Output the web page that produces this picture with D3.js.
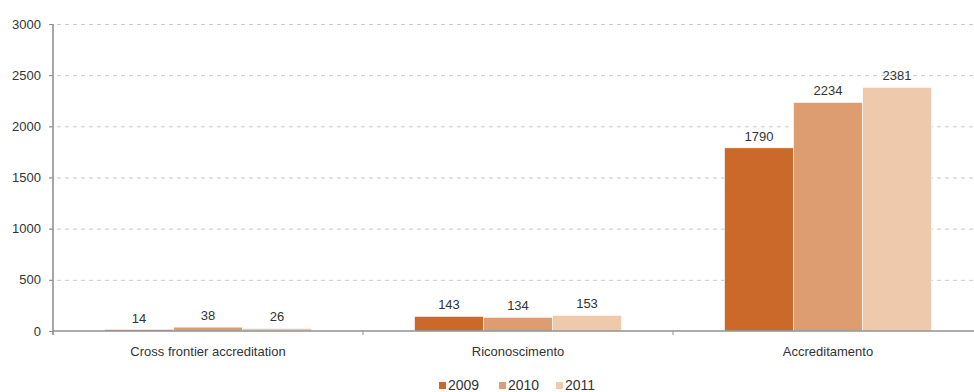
<!DOCTYPE html>
<html>
<head>
<meta charset="utf-8">
<script src="https://cdn.jsdelivr.net/npm/d3@7"></script>
<style>
  body { margin: 0; background: #fff; }
  svg { display: block; font-family: "Liberation Sans", Arial, sans-serif; }
</style>
</head>
<body>
<svg id="chart" width="974" height="392"></svg>
<script>
const categories = ["Cross frontier accreditation", "Riconoscimento", "Accreditamento"];
const years = ["2009", "2010", "2011"];
const values2009 = [14, 143, 1790];
const values2010 = [38, 134, 2234];
const values2011 = [26, 153, 2381];
const yTicks = [0, 500, 1000, 1500, 2000, 2500, 3000];
const colors = ["#CB692B", "#DE9D71", "#EEC9AB"];

(function () {
  const series = [values2009, values2010, values2011];
  const rows = categories.map((c, i) => ({
    category: c,
    bars: years.map((y, j) => ({ year: y, value: series[j][i], color: colors[j] }))
  }));

  const svg = d3.select("#chart");
  const plotLeft = 53, plotRight = 983, plotTop = 24, plotBottom = 331;

  const x0 = d3.scaleBand().domain(categories).range([plotLeft, plotRight]).padding(0);
  const x1 = d3.scaleBand().domain(years).range([0, x0.bandwidth()]).paddingInner(0).paddingOuter(0.746);
  const y = d3.scaleLinear().domain([0, 3000]).range([plotBottom, plotTop]);

  // horizontal dashed grid
  svg.append("g")
    .selectAll("line")
    .data(yTicks.filter(t => t > 0))
    .join("line")
    .attr("x1", plotLeft - 4).attr("x2", 974)
    .attr("y1", d => y(d) + 0.5).attr("y2", d => y(d) + 0.5)
    .attr("stroke", "#c8c8c8").attr("stroke-dasharray", "4,4");

  // y tick labels
  svg.append("g")
    .selectAll("text")
    .data(yTicks)
    .join("text")
    .attr("x", plotLeft - 12).attr("y", d => y(d))
    .attr("dy", "0.35em").attr("text-anchor", "end")
    .attr("font-size", 13).attr("fill", "#333")
    .text(d => d);

  // bars
  const groups = svg.append("g")
    .selectAll("g")
    .data(rows)
    .join("g")
    .attr("transform", d => `translate(${x0(d.category)},0)`);

  groups.selectAll("rect")
    .data(d => d.bars)
    .join("rect")
    .attr("x", d => x1(d.year))
    .attr("width", x1.bandwidth())
    .attr("y", d => y(d.value))
    .attr("height", d => plotBottom - y(d.value))
    .attr("fill", d => d.color)
    .attr("stroke", "#fff").attr("stroke-width", 0.6);

  groups.selectAll("text")
    .data(d => d.bars)
    .join("text")
    .attr("x", d => x1(d.year) + x1.bandwidth() / 2)
    .attr("y", d => y(d.value) - 7)
    .attr("text-anchor", "middle")
    .attr("font-size", 13).attr("fill", "#333")
    .text(d => d.value);

  // axis lines and ticks
  svg.append("line")
    .attr("x1", plotLeft).attr("x2", plotLeft)
    .attr("y1", plotTop).attr("y2", plotBottom + 4)
    .attr("stroke", "#8e9094").attr("stroke-width", 1.6);
  svg.append("g")
    .selectAll("line")
    .data(yTicks)
    .join("line")
    .attr("x1", plotLeft - 4).attr("x2", plotLeft)
    .attr("y1", d => y(d) + 0.5).attr("y2", d => y(d) + 0.5)
    .attr("stroke", "#8e9094");
  svg.append("line")
    .attr("x1", plotLeft).attr("x2", 974)
    .attr("y1", plotBottom).attr("y2", plotBottom)
    .attr("stroke", "#8e9094").attr("stroke-width", 1.6);
  svg.append("g")
    .selectAll("line")
    .data(categories)
    .join("line")
    .attr("x1", d => x0(d)).attr("x2", d => x0(d))
    .attr("y1", plotBottom).attr("y2", plotBottom + 4)
    .attr("stroke", "#8e9094");

  // category labels
  svg.append("g")
    .selectAll("text")
    .data(categories)
    .join("text")
    .attr("x", d => x0(d) + x0.bandwidth() / 2)
    .attr("y", 356)
    .attr("text-anchor", "middle")
    .attr("font-size", 13).attr("fill", "#333")
    .text(d => d);

  // legend
  const legendX = [439, 499, 556];
  const legend = svg.append("g")
    .selectAll("g")
    .data(years)
    .join("g")
    .attr("transform", (d, i) => `translate(${legendX[i]},382)`);
  legend.append("rect")
    .attr("width", 7).attr("height", 7)
    .attr("fill", (d, i) => colors[i]);
  legend.append("text")
    .attr("x", 9).attr("y", 7.5)
    .attr("font-size", 14).attr("fill", "#333")
    .text(d => d);
})();
</script>
</body>
</html>
